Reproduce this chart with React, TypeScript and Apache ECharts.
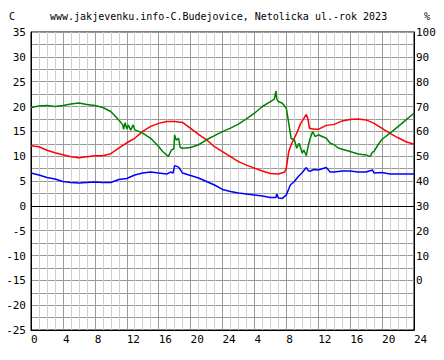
import React, { useEffect, useRef } from "react";
import * as echarts from "echarts";

const titleText = "www.jakjevenku.info-C.Budejovice, Netolicka ul.-rok 2023";

const tempHours = [0,1,2,3,4,5,6,7,8,9,10,11,12,13,14,15,16,17,18,19,20,21,22,23,24,25,26,27,28,29,30,31,31.8,32,32.3,32.6,33,33.4,33.8,34.2,34.5,34.7,34.9,35.5,36,37,38,39,40,41,42,43,44,45,46,47,48];
const tempValues = [12.1,11.9,11.2,10.7,10.3,9.9,9.7,9.9,10.1,10.1,10.5,11.6,12.7,13.6,15.0,16.0,16.6,17.0,17.0,16.8,15.6,14.4,13.3,11.9,10.9,9.9,8.9,8.2,7.6,7.0,6.5,6.4,6.8,7.6,10.9,12.3,13.6,15.0,16.6,17.6,18.4,17.6,15.6,15.4,15.4,16.2,16.4,17.1,17.4,17.5,17.3,16.6,15.6,14.6,13.7,12.9,12.4];

const dewHours = [0,1,2,3,4,5,6,7,8,9,10,11,12,13,14,15,16,17,17.5,17.8,18,18.5,19,20,21,22,23,24,25,26,27,28,29,30,30.7,30.8,31,31.5,32,32.5,33,33.5,34,34.5,34.8,35,35.5,36,37,37.5,38,39,40,41,42,42.8,43,44,45,46,47,48];
const dewValues = [6.6,6.2,5.7,5.4,4.9,4.7,4.6,4.7,4.8,4.7,4.7,5.3,5.5,6.2,6.6,6.8,6.6,6.4,6.8,6.6,8.1,7.8,6.6,6.1,5.6,4.9,4.2,3.3,2.9,2.6,2.4,2.2,2.0,1.7,1.7,2.4,1.6,1.5,2.2,4.2,4.9,5.9,6.7,7.7,7.0,7.0,7.3,7.2,7.7,6.8,6.8,7.0,7.0,6.8,6.8,7.2,6.6,6.7,6.4,6.4,6.4,6.4];

const humHours = [0,1,2,3,4,5,6,7,8,9,10,11,11.5,11.6,11.8,12,12.2,12.5,12.8,13,13.5,14,15,16,16.5,17,17.2,17.6,17.9,18,18.2,18.5,18.7,19,20,21,22,23,24,25,26,27,28,29,30,30.5,30.7,30.8,31,31.5,32,32.3,32.6,33,33.3,33.6,34,34.2,34.5,34.8,35,35.3,35.6,36,37,37.5,38,38.5,39,40,41,42,42.5,42.8,43,43.5,44,45,46,47,48];
const humValues = [69.6,70.2,70.4,70.0,70.4,71.0,71.4,70.8,70.4,69.6,68.0,64.6,62.6,60.8,63.5,61.0,62.5,60.5,62.6,60.6,60.0,59.3,57.2,53.9,51.9,50.5,49.8,52.5,53.0,58.5,56.5,57.2,53.5,53.2,53.5,54.6,56.6,58.3,59.9,61.3,62.9,65.0,67.3,70.0,72.0,73.0,76.3,73.0,72.0,71.3,69.3,63.3,57.2,56.6,53.2,55.2,51.2,52.5,50.2,55.0,57.2,59.9,57.9,58.6,57.2,55.2,54.6,53.3,52.8,51.9,50.9,50.5,49.8,51.6,51.9,54.6,56.8,59.3,61.9,64.6,67.3];

const xTickHours = [0,4,8,12,16,20,24,28,32,36,40,44,48];

const pairs = (h: number[], v: number[]) => h.map((x, i) => [x, v[i]]);

const MONO = "'DejaVu Sans Mono', monospace";

export default function App() {
  const ref = useRef<HTMLDivElement>(null);
  useEffect(() => {
    if (!ref.current) return;
    const chart = echarts.init(ref.current, null, { renderer: "svg" });
    const majorGrid = "#9a9a9a";
    const minorGrid = "#cfcfcf";
    chart.setOption({
      animation: false,
      backgroundColor: "#ffffff",
      grid: { left: 31, right: 30, top: 32, bottom: 30, show: true, borderColor: "#000", borderWidth: 1, backgroundColor: "transparent" },
      graphic: [
        { type: "text", left: 9, top: 11, style: { text: "C", font: "10px " + MONO, fill: "#000" } },
        { type: "text", left: 50, top: 11, style: { text: titleText, font: "10px " + MONO, fill: "#000" } },
        { type: "text", left: 424, top: 11, style: { text: "%", font: "10px " + MONO, fill: "#000" } },
      ],
      xAxis: {
        type: "value",
        min: 0,
        max: 48,
        interval: 4,
        axisLine: { show: true, onZero: false, lineStyle: { color: "#000" } },
        axisTick: { show: false },
        axisLabel: {
          color: "#000",
          fontFamily: MONO,
          fontSize: 11,
          align: "left",
          margin: 4,
          showMinLabel: true,
          showMaxLabel: true,
          customValues: xTickHours,
          formatter: (v: number) => (v === 0 ? "0" : String(v % 24 === 0 ? 24 : v % 24)),
        },
        splitLine: { show: true, lineStyle: { color: majorGrid, width: 1 } },
        minorTick: { show: false, splitNumber: 4 },
        minorSplitLine: { show: true, lineStyle: { color: minorGrid, width: 1 } },
      },
      yAxis: [
        {
          type: "value",
          min: -25,
          max: 35,
          interval: 5,
          position: "left",
          axisLine: { show: true, lineStyle: { color: "#000" } },
          axisTick: { show: false },
          axisLabel: { color: "#000", fontFamily: MONO, fontSize: 11, margin: 5, verticalAlign: "top", lineHeight: 11, padding: [-5, 0, 0, 0] },
          splitLine: { show: true, lineStyle: { color: majorGrid, width: 1 } },
          minorTick: { show: false, splitNumber: 2 },
          minorSplitLine: { show: true, lineStyle: { color: majorGrid, width: 1 } },
        },
        {
          type: "value",
          min: -20,
          max: 100,
          interval: 10,
          position: "right",
          axisLine: { show: true, lineStyle: { color: "#000" } },
          axisTick: { show: false },
          axisLabel: {
            color: "#000",
            fontFamily: MONO,
            fontSize: 11,
            margin: 2,
            verticalAlign: "top",
            lineHeight: 11,
            padding: [-5, 0, 0, 0],
            formatter: (v: number) => (v < 0 ? "" : String(v)),
          },
          splitLine: { show: false },
        },
      ],
      series: [
        {
          type: "line",
          name: "teplota",
          yAxisIndex: 0,
          data: pairs(tempHours, tempValues),
          showSymbol: false,
          lineStyle: { color: "#ff0000", width: 1.5 },
          itemStyle: { color: "#ff0000" },
          markLine: {
            silent: true,
            symbol: ["none", "none"],
            label: { show: false },
            lineStyle: { color: "#000", type: "solid", width: 1 },
            data: [{ yAxis: 0 }],
          },
          z: 3,
        },
        {
          type: "line",
          name: "rosny bod",
          yAxisIndex: 0,
          data: pairs(dewHours, dewValues),
          showSymbol: false,
          lineStyle: { color: "#0000ff", width: 1.5 },
          itemStyle: { color: "#0000ff" },
          z: 3,
        },
        {
          type: "line",
          name: "vlhkost",
          yAxisIndex: 1,
          data: pairs(humHours, humValues),
          showSymbol: false,
          lineStyle: { color: "#008000", width: 1.5 },
          itemStyle: { color: "#008000" },
          z: 3,
        },
      ],
    });
    return () => chart.dispose();
  }, []);
  return <div ref={ref} style={{ position: "fixed", left: 0, top: 0, width: 444, height: 360, background: "#fff" }} />;
}
